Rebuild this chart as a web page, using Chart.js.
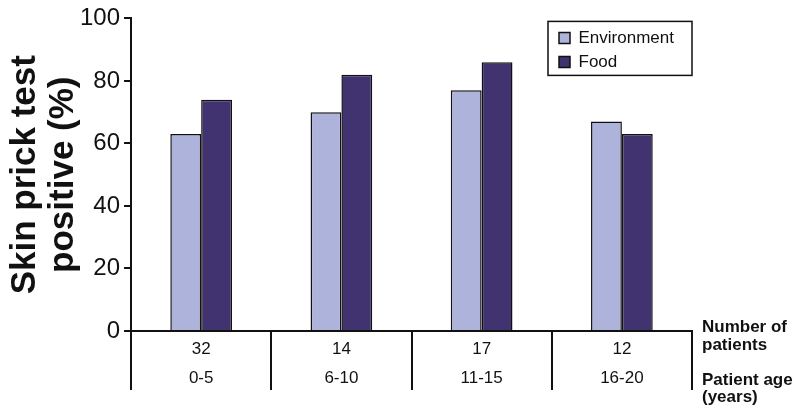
<!DOCTYPE html>
<html>
<head>
<meta charset="utf-8">
<title>Skin prick test positive by patient age</title>
<script src="https://cdn.jsdelivr.net/npm/chart.js@4"></script>
<style>
  html, body { margin: 0; padding: 0; background: #fff; }
  #wrap { width: 800px; height: 412px; }
</style>
</head>
<body>
<div id="wrap"><canvas id="skinChart"></canvas></div>
<script>
const ageGroups = ['0-5', '6-10', '11-15', '16-20'];
const patientCounts = [32, 14, 17, 12];
const environment = [63, 70, 77, 67];
const food = [74, 82, 86, 63];
const yTicks = [0, 20, 40, 60, 80, 100];
const rowTitles = [['Number of', 'patients'], ['Patient age', '(years)']];

const ink = '#111';
Chart.defaults.font.family = '"Liberation Sans", Arial, Helvetica, sans-serif';
Chart.defaults.color = ink;

// each category label is two rows: patient count, then age range
const labels = ageGroups.map((age, i) => [String(patientCounts[i]), age]);

// move the legend to the top-right corner of the plot and box it in
const legendFrame = {
    id: 'legendFrame',
    afterLayout(chart) {
        const lg = chart.legend;
        const area = chart.chartArea;
        lg.left = area.right - 140;
        lg.right = lg.left + lg.width;
        lg.top = area.top + 4;
        lg.bottom = lg.top + lg.height;
    },
    afterDraw(chart) {
        const lg = chart.legend;
        const area = chart.chartArea;
        const ctx = chart.ctx;
        ctx.save();
        ctx.strokeStyle = ink;
        ctx.lineWidth = 1.5;
        ctx.strokeRect(lg.left - 4, lg.top - 1, area.right - lg.left + 4, 54);
        ctx.restore();
    }
};

// bold row captions to the right of the x axis
const rowCaptions = {
    id: 'rowCaptions',
    afterDraw(chart) {
        const ctx = chart.ctx;
        const x = chart.chartArea.right + 10;
        const b = chart.chartArea.bottom;
        const offsets = [[-4, 14], [49, 66]];
        ctx.save();
        ctx.font = 'bold 17px "Liberation Sans", Arial, sans-serif';
        ctx.fillStyle = ink;
        ctx.textBaseline = 'middle';
        rowTitles.forEach((lines, r) => {
            lines.forEach((t, j) => ctx.fillText(t, x, b + offsets[r][j]));
        });
        ctx.restore();
    }
};

new Chart(document.getElementById('skinChart'), {
    type: 'bar',
    data: {
        labels,
        datasets: [
            {
                label: 'Environment',
                data: environment,
                backgroundColor: '#aeb3db',
                borderColor: ink,
                borderWidth: 1.5
            },
            {
                label: 'Food',
                data: food,
                backgroundColor: '#41336f',
                borderColor: ink,
                borderWidth: 1.5
            }
        ]
    },
    options: {
        responsive: true,
        maintainAspectRatio: false,
        animation: false,
        categoryPercentage: 0.44,
        barPercentage: 1.0,
        layout: { padding: { left: 6, right: 108, top: 0, bottom: 19 } },
        plugins: {
            tooltip: { enabled: false },
            legend: {
                position: 'chartArea',
                align: 'start',
                labels: {
                    boxWidth: 11,
                    boxHeight: 11,
                    padding: 7,
                    font: { size: 17 },
                    color: ink
                }
            }
        },
        scales: {
            x: {
                // labels sit between the long divider ticks, so the box height is set by hand
                afterFit: axis => { axis.height = 62; },
                grid: {
                    offset: true,
                    drawOnChartArea: false,
                    tickLength: 59,
                    color: ink,
                    lineWidth: 2
                },
                border: { color: ink, width: 2 },
                ticks: {
                    font: { size: 17, lineHeight: 1.7 },
                    color: ink,
                    padding: -55,
                    maxRotation: 0,
                    autoSkip: false
                }
            },
            y: {
                min: 0,
                max: 100,
                afterBuildTicks: axis => { axis.ticks = yTicks.map(v => ({ value: v })); },
                grid: { drawOnChartArea: false, tickLength: 7, color: ink, lineWidth: 2 },
                border: { color: ink, width: 2 },
                ticks: { font: { size: 24 }, color: ink, padding: 4 },
                title: {
                    display: true,
                    text: ['Skin prick test', 'positive (%)'],
                    font: { size: 35, weight: 'bold', lineHeight: 1.1 },
                    color: ink,
                    padding: { top: 0, bottom: -7 }
                }
            }
        }
    },
    plugins: [legendFrame, rowCaptions]
});
</script>
</body>
</html>
